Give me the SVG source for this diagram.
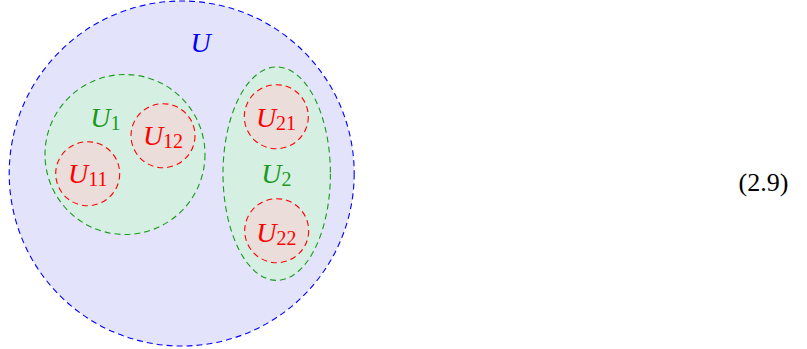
<svg xmlns="http://www.w3.org/2000/svg" width="807" height="349" viewBox="0 0 807 349">
<defs>
<style>
.b{fill:#e3e3fc;stroke:#0000ff;stroke-width:1.1;stroke-dasharray:6,4}
.g{fill:#d5f0e3;stroke:#1a9a1a;stroke-width:1.1;stroke-dasharray:6,4}
.r{fill:#ebdeda;stroke:#ff0000;stroke-width:1.1;stroke-dasharray:6,4}
.s{font-style:normal;font-size:20px}
.tb{fill:#0000ff}.tg{fill:#1a9a1a}.tr{fill:#ff0000}
</style>
</defs>
<g font-family="Liberation Serif, DejaVu Serif, serif" font-style="italic" font-size="28" text-anchor="middle">
<g id="U"><circle class="b" cx="181.7" cy="173.5" r="172.5"/><text class="tb" x="200.7" y="51.7">U</text></g>
<g id="U1"><circle class="g" cx="125" cy="154.5" r="80"/><text class="tg" x="105.3" y="126.7">U<tspan class="s" dy="3">1</tspan></text></g>
<g id="U11"><circle class="r" cx="87.7" cy="173.7" r="32"/><text class="tr" x="87.7" y="182.7">U<tspan class="s" dy="3">11</tspan></text></g>
<g id="U12"><circle class="r" cx="163" cy="135.7" r="32"/><text class="tr" x="163" y="145">U<tspan class="s" dy="3">12</tspan></text></g>
<g id="U2"><ellipse class="g" cx="276.7" cy="173.7" rx="53.7" ry="106.7"/><text class="tg" x="276.3" y="182.7">U<tspan class="s" dy="3">2</tspan></text></g>
<g id="U21"><circle class="r" cx="276.3" cy="116.7" r="32"/><text class="tr" x="276" y="127">U<tspan class="s" dy="3">21</tspan></text></g>
<g id="U22"><circle class="r" cx="276.7" cy="230.7" r="32"/><text class="tr" x="276.3" y="241.5">U<tspan class="s" dy="3">22</tspan></text></g>
<g id="connectors"></g>
<text x="763.5" y="190.5" font-style="normal" font-size="26" fill="#000">(2.9)</text>
</g>
</svg>
